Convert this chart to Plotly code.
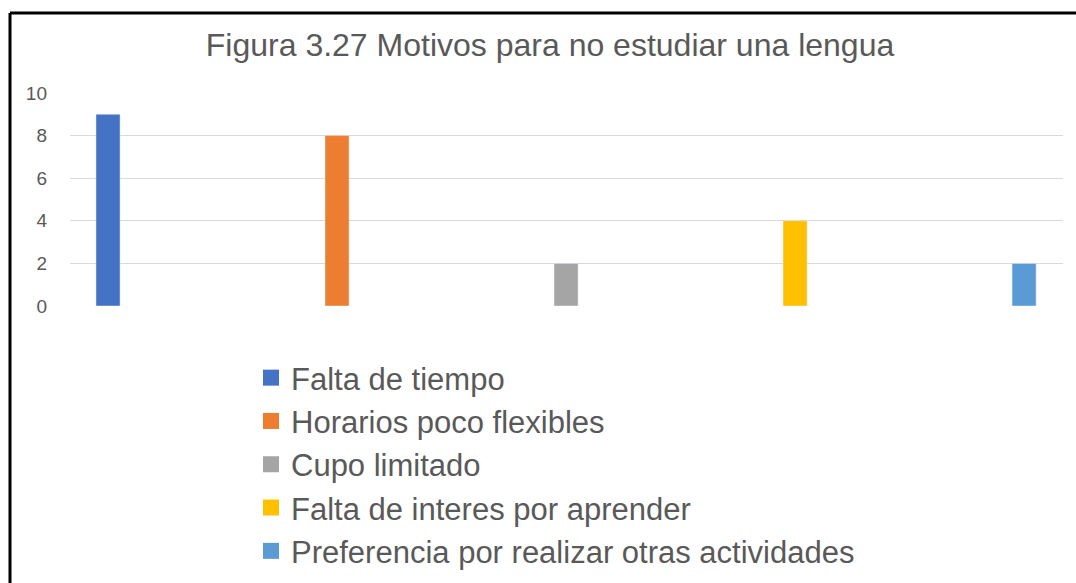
import plotly.graph_objects as go

categories = ["Falta de tiempo", "Horarios poco flexibles", "Cupo limitado",
              "Falta de interes por aprender", "Preferencia por realizar otras actividades"]
values = [9, 8, 2, 4, 2]
colors = ["#4472C4", "#ED7D31", "#A5A5A5", "#FFC000", "#5B9BD5"]
y_ticks = [0, 2, 4, 6, 8, 10]
title_text = "Figura 3.27 Motivos para no estudiar una lengua"

W, H = 1076, 583
L, R, T, B = 70, 13, 93, 277
pw, ph = W - L - R, H - T - B

fig = go.Figure()
for i, (c, v, col) in enumerate(zip(categories, values, colors)):
    fig.add_trace(go.Bar(x=[i], y=[v], name=c, marker_color=col, width=0.105,
                         showlegend=False))
for i, (c, col) in enumerate(zip(categories, colors)):
    fig.add_trace(go.Scatter(x=[None], y=[None], mode="markers", name=c,
                             marker=dict(symbol="square", size=18, color=col),
                             legendgroup=str(i), showlegend=True))

def px_x(p):
    return (p - L) / pw

def px_y(p):
    return (H - B - p) / ph

font_family = "Liberation Sans, Arial, sans-serif"
fig.update_layout(
    width=W, height=H,
    margin=dict(l=L, r=R, t=T, b=B, autoexpand=False),
    paper_bgcolor="white", plot_bgcolor="white",
    barmode="overlay",
    font=dict(family=font_family, color="#595959"),
    title=dict(text=title_text, x=550 / W, xanchor="center", y=1 - 45 / H, yanchor="middle",
               font=dict(size=32, color="#595959", family=font_family)),
    xaxis=dict(range=[-0.166, 4.17], showticklabels=False, showgrid=False,
               zeroline=False, showline=False, fixedrange=True),
    yaxis=dict(range=[0, 10], tickvals=y_ticks, showgrid=True, gridcolor="#D9D9D9",
               gridwidth=1, zeroline=False, showline=False, ticks="",
               ticklabelstandoff=22, tickfont=dict(size=19, color="#595959")),
    legend=dict(x=px_x(251), xanchor="left", y=px_y(351), yanchor="top",
                orientation="v", font=dict(size=31, color="#595959"),
                tracegroupgap=0, bgcolor="rgba(0,0,0,0)", itemsizing="trace"),
    shapes=[
        dict(type="line", xref="paper", yref="paper", x0=px_x(10), x1=px_x(1080),
             y0=px_y(13), y1=px_y(13), line=dict(color="black", width=3)),
        dict(type="line", xref="paper", yref="paper", x0=px_x(10), x1=px_x(10),
             y0=px_y(13), y1=px_y(590), line=dict(color="black", width=3)),
    ],
)

fig.write_html("out.html", config={"displayModeBar": False},
               post_script="document.body.style.margin='0';document.body.style.overflow='hidden';")
